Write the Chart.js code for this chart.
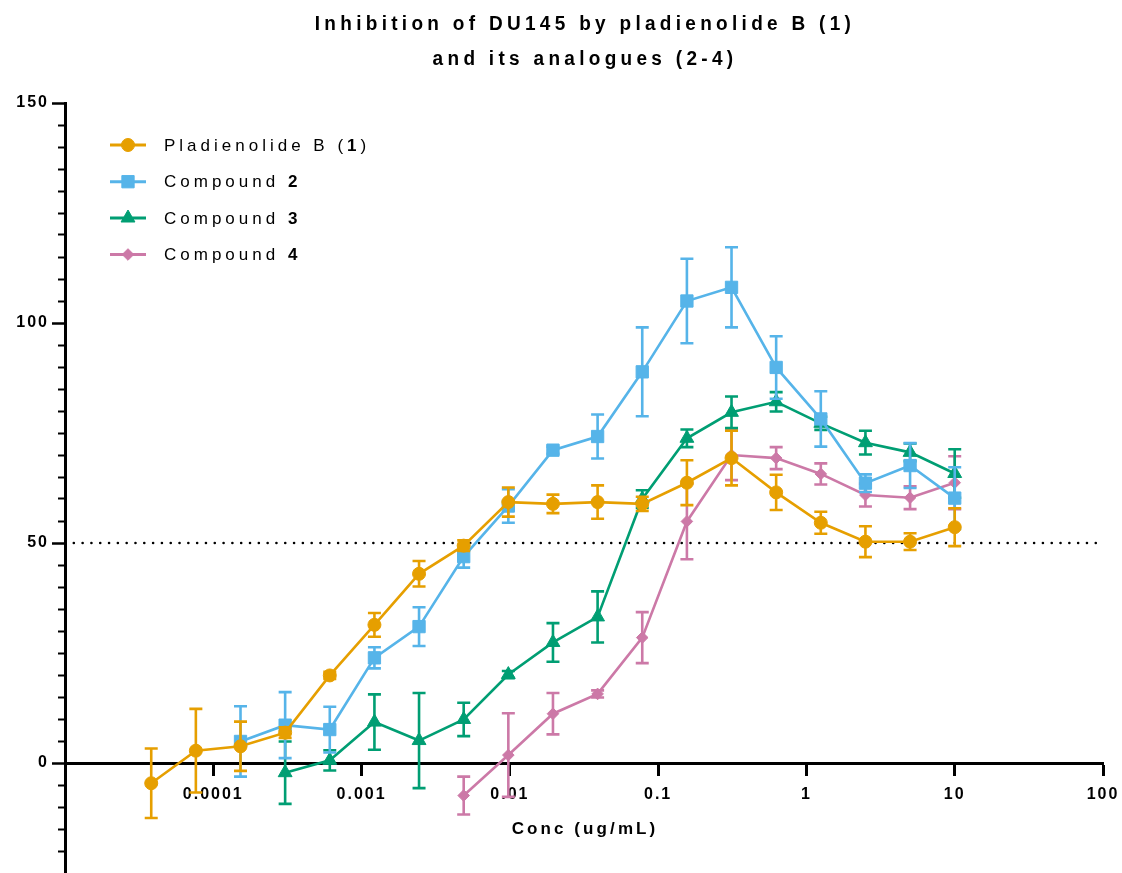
<!DOCTYPE html>
<html>
<head>
<meta charset="utf-8">
<script src="https://cdn.jsdelivr.net/npm/chart.js@4.4.1/dist/chart.umd.min.js"></script>
<style>
html,body{margin:0;padding:0;background:#fff;}
canvas{display:block;}
</style>
</head>
<body>
<canvas id="c" width="1122" height="873"></canvas>
<script>
// ---------------- DATA ----------------
const concentrations = [0.00003815, 0.00007629, 0.0001526, 0.0003052, 0.0006104, 0.001221, 0.002441, 0.004883, 0.009766, 0.01953, 0.03906, 0.07813, 0.1563, 0.3125, 0.625, 1.25, 2.5, 5, 10];

const pladienolideMean = [-4.6, 2.8, 3.8, 6.9, 19.9, 31.4, 43.0, 49.4, 59.3, 58.9, 59.3, 58.9, 63.7, 69.3, 61.5, 54.6, 50.3, 50.3, 53.6];
const pladienolideErr  = [7.9, 9.5, 5.6, 1.2, 0.8, 2.7, 2.9, 1.2, 3.3, 2.1, 3.8, 1.6, 5.1, 6.2, 4.0, 2.5, 3.5, 1.9, 4.3];

const compound2Mean = [null, null, 4.9, 8.6, 7.6, 23.9, 31.0, 46.9, 58.4, 71.1, 74.2, 88.9, 105.0, 108.1, 89.9, 78.2, 63.6, 67.6, 60.2];
const compound2Err  = [null, null, 8.0, 7.5, 5.2, 2.4, 4.4, 2.5, 3.8, 0.8, 5.0, 10.1, 9.6, 9.1, 7.1, 6.3, 2.0, 5.1, 7.0];

const compound3Mean = [null, null, null, -2.2, 0.6, 9.3, 5.1, 9.9, 20.1, 27.4, 33.2, 60.0, 73.8, 79.7, 82.1, 77.2, 72.8, 70.6, 65.8];
const compound3Err  = [null, null, null, 7.1, 2.3, 6.3, 10.8, 3.8, 0.8, 4.4, 5.8, 2.0, 2.0, 3.6, 2.2, 1.5, 2.7, 2.0, 5.5];

const compound4Mean = [null, null, null, null, null, null, null, -7.4, 1.8, 11.2, 15.7, 28.5, 54.9, 70.0, 69.3, 65.7, 60.9, 60.3, 63.7];
const compound4Err  = [null, null, null, null, null, null, null, 4.3, 9.5, 4.7, 0.8, 5.8, 8.6, 5.7, 2.5, 2.4, 2.6, 2.6, 6.0];

const seriesNames = ['Pladienolide B (', 'Compound ', 'Compound ', 'Compound '];
const seriesLabelBold = ['1', '2', '3', '4'];
const seriesLabelTail = [')', '', '', ''];

const xTickValues = [0.0001, 0.001, 0.01, 0.1, 1, 10, 100];
const xTickLabels = ['0.0001', '0.001', '0.01', '0.1', '1', '10', '100'];
const yTickValues = [0, 50, 100, 150];
const yTickLabels = ['0', '50', '100', '150'];
const yMinorTickValues = [-20, -15, -10, -5, 5, 10, 15, 20, 25, 30, 35, 40, 45, 55, 60, 65, 70, 75, 80, 85, 90, 95, 105, 110, 115, 120, 125, 130, 135, 140, 145];
const thresholdValue = 50;
const xRange = [0.00001, 100];
const yRange = [-25, 150];

const titleLines = ['Inhibition of DU145 by pladienolide B (1)', 'and its analogues (2-4)'];
const xAxisTitle = 'Conc (ug/mL)';

// ---------------- STYLE ----------------
const FONT = "'Liberation Sans', Arial, Helvetica, sans-serif";
const colors = ['#E69F00', '#56B4E9', '#009E73', '#CC79A7'];
const pointStyles = ['circle', 'rect', 'triangle', 'rectRot'];
const pointRadii = [6.5, 8.7, 8, 5.8];

function toPoints(means) {
  const pts = [];
  means.forEach((m, i) => { if (m !== null) pts.push({x: concentrations[i], y: m}); });
  return pts;
}
function toErrs(means, errs) {
  const out = [];
  means.forEach((m, i) => { if (m !== null) out.push(errs[i]); });
  return out;
}

const allMeans = [pladienolideMean, compound2Mean, compound3Mean, compound4Mean];
const allErrs = [pladienolideErr, compound2Err, compound3Err, compound4Err];

const datasets = allMeans.map((means, k) => ({
  label: seriesNames[k] + seriesLabelBold[k] + seriesLabelTail[k],
  data: toPoints(means),
  errors: toErrs(means, allErrs[k]),
  borderColor: colors[k],
  backgroundColor: colors[k],
  pointBackgroundColor: colors[k],
  pointBorderColor: colors[k],
  pointBorderWidth: 1,
  pointStyle: pointStyles[k],
  pointRadius: pointRadii[k],
  borderWidth: 2.6,
  tension: 0,
  order: k
}));

datasets.push({
  label: 'threshold',
  data: [{x: xRange[0], y: thresholdValue}, {x: xRange[1], y: thresholdValue}],
  borderColor: '#000',
  borderWidth: 2.6,
  borderDash: [0.01, 8.8],
  borderCapStyle: 'round',
  pointRadius: 0,
  order: 10,
  isThreshold: true
});

// ---------------- PLUGINS ----------------
const spacingPlugin = {
  id: 'spacing',
  beforeLayout(chart) { chart.ctx.letterSpacing = '2px'; },
  beforeDraw(chart) { chart.ctx.letterSpacing = '2px'; }
};

const errorBarPlugin = {
  id: 'errorBars',
  beforeDatasetDraw(chart, args) {
    const ds = chart.data.datasets[args.index];
    if (!ds.errors) return;
    const ctx = chart.ctx;
    const ys = chart.scales.y;
    ctx.save();
    ctx.strokeStyle = ds.borderColor;
    ctx.lineWidth = 2.6;
    ctx.lineCap = 'butt';
    args.meta.data.forEach((pt, i) => {
      const v = ds.data[i].y, e = ds.errors[i];
      if (e === null || e === undefined) return;
      const yT = ys.getPixelForValue(v + e), yB = ys.getPixelForValue(v - e);
      const x = pt.x, cw = 6.5;
      ctx.beginPath();
      ctx.moveTo(x, yT); ctx.lineTo(x, yB);
      ctx.moveTo(x - cw, yT); ctx.lineTo(x + cw, yT);
      ctx.moveTo(x - cw, yB); ctx.lineTo(x + cw, yB);
      ctx.stroke();
    });
    ctx.restore();
  }
};

function drawSpaced(ctx, parts, x, y, align) {
  let total = 0;
  const widths = parts.map(p => { ctx.font = p.font; const w = ctx.measureText(p.text).width; total += w; return w; });
  let cx = align === 'center' ? x - total / 2 : x;
  ctx.textAlign = 'left';
  parts.forEach((p, i) => { ctx.font = p.font; ctx.fillText(p.text, cx, y); cx += widths[i]; });
}

const textPlugin = {
  id: 'texts',
  afterDraw(chart) {
    const ctx = chart.ctx;
    const area = chart.chartArea;
    const cx = (area.left + area.right) / 2;
    ctx.save();
    ctx.fillStyle = '#000';
    ctx.textBaseline = 'alphabetic';
    ctx.letterSpacing = '4.3px';
    ctx.save(); ctx.scale(1, 1.08);
    drawSpaced(ctx, [{text: titleLines[0], font: 'bold 19px ' + FONT}], cx + 1, 29.5 / 1.08, 'center');
    drawSpaced(ctx, [{text: titleLines[1], font: 'bold 19px ' + FONT}], cx + 1, 65 / 1.08, 'center');
    ctx.restore();
    ctx.letterSpacing = '3.1px';
    drawSpaced(ctx, [{text: xAxisTitle, font: 'bold 17px ' + FONT}], cx + 1, 834, 'center');
    const rowY = [145, 181.7, 218, 254.5];
    chart.data.datasets.forEach((ds, k) => {
      if (ds.isThreshold) return;
      const y = rowY[k];
      ctx.strokeStyle = ds.borderColor;
      ctx.lineWidth = 3;
      ctx.setLineDash([]);
      ctx.beginPath(); ctx.moveTo(110, y); ctx.lineTo(146, y); ctx.stroke();
      ctx.fillStyle = ds.borderColor;
      ctx.lineWidth = 1;
      Chart.helpers.drawPoint(ctx, {pointStyle: ds.pointStyle, rotation: 0, radius: ds.pointRadius, borderWidth: 1}, 128, y);
      ctx.fillStyle = '#000';
      ctx.letterSpacing = '4px';
      ctx.textBaseline = 'middle';
      drawSpaced(ctx, [
        {text: seriesNames[k], font: '17px ' + FONT},
        {text: seriesLabelBold[k], font: 'bold 17px ' + FONT},
        {text: seriesLabelTail[k], font: '17px ' + FONT}
      ], 164, y + 1, 'left');
    });
    ctx.restore();
  }
};

function zeroPad(s) { s.paddingTop = 0; s.paddingBottom = 0; s.paddingLeft = 0; s.paddingRight = 0; }

// ---------------- CHART ----------------
new Chart(document.getElementById('c'), {
  type: 'line',
  data: { datasets: datasets },
  plugins: [spacingPlugin, errorBarPlugin, textPlugin],
  options: {
    responsive: false,
    maintainAspectRatio: false,
    animation: false,
    devicePixelRatio: 1,
    layout: { autoPadding: false, padding: { top: 103, right: 19, bottom: 0, left: 0 } },
    plugins: { legend: { display: false }, title: { display: false }, tooltip: { enabled: false } },
    scales: {
      x: {
        type: 'logarithmic',
        min: xRange[0], max: xRange[1],
        position: { y: 0 },
        afterBuildTicks: s => { s.ticks = xTickValues.map(v => ({ value: v })); },
        afterFit: zeroPad,
        ticks: {
          autoSkip: false, maxRotation: 0, color: '#000', padding: 11,
          font: { family: FONT, size: 16, weight: 'bold' },
          callback: v => xTickLabels[xTickValues.indexOf(v)]
        },
        grid: { drawOnChartArea: false, drawTicks: true, tickLength: 11, tickWidth: 3, tickColor: '#000' },
        border: { display: true, color: '#000', width: 3 }
      },
      y: {
        type: 'linear',
        min: yRange[0], max: yRange[1],
        position: 'left',
        afterBuildTicks: s => { s.ticks = yTickValues.map(v => ({ value: v })); },
        afterFit: s => { s.width = 65; zeroPad(s); },
        ticks: {
          color: '#000', padding: 3,
          font: { family: FONT, size: 16, weight: 'bold' },
          callback: v => yTickLabels[yTickValues.indexOf(v)]
        },
        grid: { drawOnChartArea: false, drawTicks: true, tickLength: 13, tickWidth: 2.5, tickColor: '#000' },
        border: { display: true, color: '#000', width: 3 }
      },
      yMinor: {
        type: 'linear',
        min: yRange[0], max: yRange[1],
        position: { x: xRange[0] },
        afterBuildTicks: s => { s.ticks = yMinorTickValues.map(v => ({ value: v })); },
        afterFit: zeroPad,
        ticks: { display: false },
        grid: { drawOnChartArea: false, drawTicks: true, tickLength: 7, tickWidth: 2, tickColor: '#000' },
        border: { display: false }
      }
    }
  }
});
</script>
</body>
</html>
